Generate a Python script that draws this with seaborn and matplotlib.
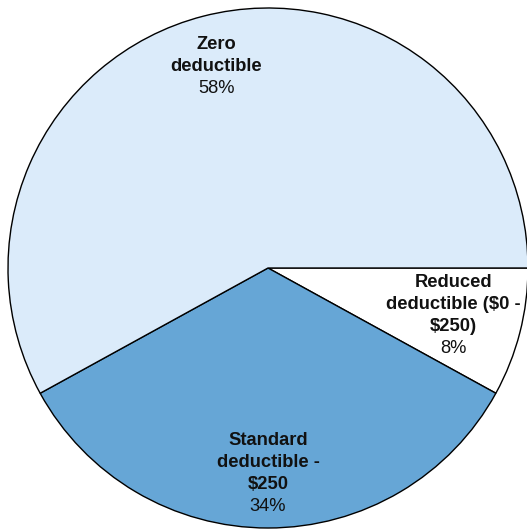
import numpy as np
import matplotlib
matplotlib.use("Agg")
import matplotlib.pyplot as plt
import seaborn as sns

sns.set_theme(style="white")
plt.rcParams["font.family"] = ["Liberation Sans", "DejaVu Sans"]

# Deductible plan shares (clockwise from 3 o'clock)
names = ["Reduced\ndeductible ($0 -\n$250)", "Standard\ndeductible -\n$250", "Zero\ndeductible"]
shares = [8, 34, 58]
colors = ["#ffffff", "#66a6d6", "#dbebfa"]
label_radius = [0.735, 0.79, 0.80]

W, H = 527, 531
fig = plt.figure(figsize=(W / 100, H / 100), dpi=100)
ax = fig.add_axes([0, 0, 1, 1])
cx, cy, R = 268, 268, 260

wedges, _ = ax.pie(
    shares, colors=colors, startangle=0, counterclock=False, radius=R,
    wedgeprops=dict(edgecolor="black", linewidth=1.0), frame=True,
)
ax.set_xlim(-cx, W - cx)
ax.set_ylim(-(H - cy), cy)
ax.set_aspect("equal")
ax.axis("off")

line_gap = 22
for w, name, share, rf in zip(wedges, names, shares, label_radius):
    mid = np.deg2rad((w.theta1 + w.theta2) / 2)
    x, y = rf * R * np.cos(mid), rf * R * np.sin(mid)
    lines = name.split("\n")
    n = len(lines) + 1
    top = y + (n - 1) * line_gap / 2
    for i, ln in enumerate(lines):
        ax.text(x, top - i * line_gap, ln, ha="center", va="center",
                fontsize=13.2, fontweight="bold", color="#111111")
    ax.text(x, top - len(lines) * line_gap, f"{share}%", ha="center", va="center",
            fontsize=13.2, color="#111111")

fig.savefig("out.png", dpi=100)
